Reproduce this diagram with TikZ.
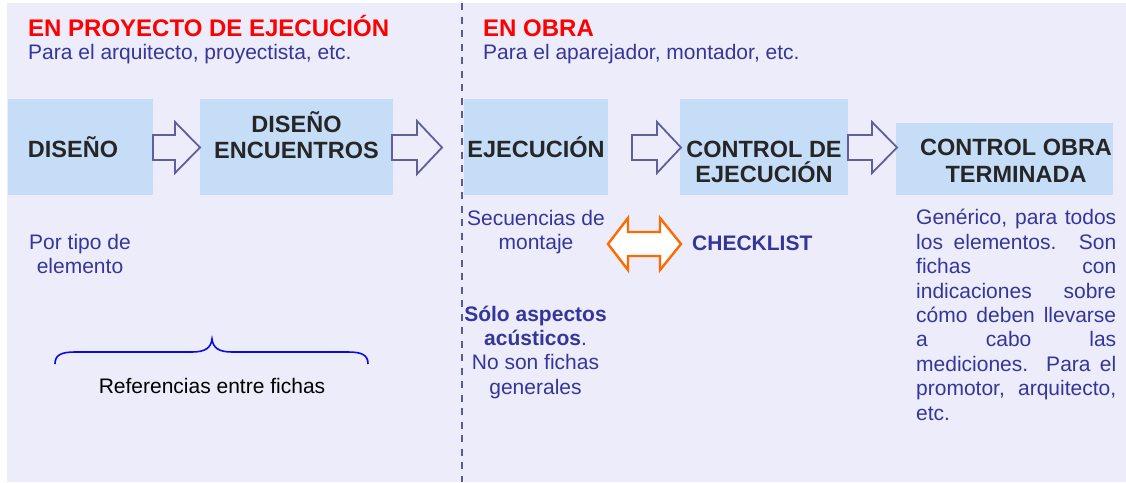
\documentclass[tikz,border=0pt]{standalone}
\usepackage{fontspec}
\setmainfont{Liberation Sans}
\definecolor{bgc}{HTML}{ECECFB}
\definecolor{boxc}{HTML}{C6DDF8}
\definecolor{titlered}{HTML}{FF0000}
\definecolor{txtblue}{HTML}{36369A}
\definecolor{arrc}{HTML}{5F5F9E}
\definecolor{orangec}{HTML}{FF6A00}
\definecolor{dashc}{HTML}{5A5A96}
\definecolor{boxtxt}{HTML}{262626}
\definecolor{bracec}{HTML}{0A0AE6}
\tikzset{
  stagebox/.style={fill=boxc, draw=none, inner sep=0pt},
  title/.style={anchor=base west, inner sep=0pt, text=titlered, font=\fontsize{24}{28}\selectfont\bfseries},
  subtitle/.style={anchor=base west, inner sep=0pt, text=txtblue, font=\fontsize{21}{24}\selectfont},
  boxlabel/.style={anchor=base, inner sep=0pt, align=center, text=boxtxt, font=\fontsize{23.5}{26}\selectfont\bfseries},
  note/.style={anchor=base, inner sep=0pt, align=center, text=txtblue, font=\fontsize{21}{24.3}\selectfont},
  hollowarrow/.style={draw=arrc, line width=1.8pt, fill=bgc, line join=miter},
  dblarrow/.style={draw=orangec, line width=2.4pt, fill=white, line join=miter},
  divider/.style={draw=dashc, line width=1.8pt, dash pattern=on 7pt off 6.5pt},
}
\begin{document}
\begin{tikzpicture}[x=1pt,y=-1pt]
\useasboundingbox (0,0) rectangle (1126,482);
\fill[bgc] (7,3) rectangle (1126,482);

% divider
\coordinate (dtop) at (462,3);
\coordinate (dbot) at (462,482);
\draw[divider] (dtop) -- (dbot);

% headings
\node[title] (t1) at (28,36) {EN PROYECTO DE EJECUCIÓN};
\node[subtitle] (s1) at (28,59) {Para el arquitecto, proyectista, etc.};
\node[title] (t2) at (483,36) {EN OBRA};
\node[subtitle] (s2) at (483,59) {Para el aparejador, montador, etc.};

% boxes
\node[stagebox, minimum width=145pt, minimum height=96pt] (b1) at (80.5,147) {};
\node[stagebox, minimum width=193pt, minimum height=96pt] (b2) at (296.5,147) {};
\node[stagebox, minimum width=144pt, minimum height=96pt] (b3) at (536,147) {};
\node[stagebox, minimum width=168pt, minimum height=96pt] (b4) at (764,147) {};
\node[stagebox, minimum width=217pt, minimum height=72pt] (b5) at (1004.5,159) {};

% labels (base anchor = baseline of last line)
\node[boxlabel] (l1) at (73,157) {DISEÑO};
\node[boxlabel] (l2) at (296.5,158) {DISEÑO\\ENCUENTROS};
\node[boxlabel] (l3) at (536,157) {EJECUCIÓN};
\node[boxlabel, font=\fontsize{23.5}{25}\selectfont\bfseries] (l4) at (764,182) {CONTROL DE\\EJECUCIÓN};
\node[boxlabel, font=\fontsize{23.5}{27}\selectfont\bfseries] (l5) at (1016,182) {CONTROL OBRA\\TERMINADA};

% hollow block arrows
\draw[hollowarrow] (153,135) -- (175,135) -- (175,122) -- (200,147.5) -- (175,173) -- (175,160) -- (153,160) -- cycle;
\draw[hollowarrow] (392,135) -- (417,135) -- (417,121) -- (442,147.5) -- (417,174) -- (417,160) -- (392,160) -- cycle;
\draw[hollowarrow] (632,135) -- (657,135) -- (657,122) -- (681,147.5) -- (657,173) -- (657,160) -- (632,160) -- cycle;
\draw[hollowarrow] (848,135) -- (872,135) -- (872,122) -- (897,147.5) -- (872,173) -- (872,160) -- (848,160) -- cycle;

% notes
\node[note, font=\fontsize{21}{24}\selectfont] (n1) at (80,273) {Por tipo de\\elemento};
\node[note, font=\fontsize{21}{24}\selectfont] (n2) at (536,249) {Secuencias de\\montaje};
\node[note] (n3) at (535.5,394) {\textbf{Sólo aspectos}\\\textbf{acústicos}.\\No son fichas\\generales};
\node[anchor=base west, inner sep=0pt, text=txtblue, font=\fontsize{21}{24}\selectfont\bfseries] (ck) at (692,250) {CHECKLIST};

% double arrow
\draw[dblarrow] (608,244) -- (628,218) -- (628,232) -- (660,232) -- (660,218) -- (681,244) -- (660,270) -- (660,256) -- (628,256) -- (628,270) -- cycle;

% paragraph right
\node[anchor=base west, inner sep=0pt, align=left, text=txtblue, font=\fontsize{21}{24.4}\selectfont] (p) at (916,420) {%
\makebox[200pt][s]{Genérico, para todos}\\
\makebox[200pt][s]{los elementos. Son}\\
\makebox[200pt][s]{fichas con}\\
\makebox[200pt][s]{indicaciones sobre}\\
\makebox[200pt][s]{cómo deben llevarse}\\
\makebox[200pt][s]{a cabo las}\\
\makebox[200pt][s]{mediciones. Para el}\\
\makebox[200pt][s]{promotor, arquitecto,}\\
etc.};

% brace
\draw[bracec, line width=1.6pt] (55,364) .. controls (55,355) and (61,352) .. (75,352) -- (192,352) .. controls (205,352) and (211,348) .. (212,339) .. controls (213,348) and (219,352) .. (232,352) -- (348,352) .. controls (362,352) and (368,355) .. (368,364);
\node[anchor=base, inner sep=0pt, font=\fontsize{21}{24}\selectfont] (ref) at (212,393) {Referencias entre fichas};
\end{tikzpicture}
\end{document}
